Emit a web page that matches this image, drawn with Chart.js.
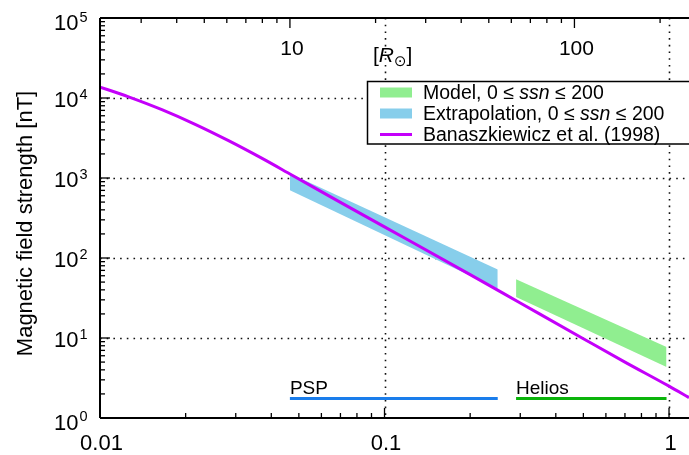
<!DOCTYPE html>
<html><head><meta charset="utf-8">
<script src="https://cdn.jsdelivr.net/npm/chart.js@4/dist/chart.umd.min.js"></script>
<style>html,body{margin:0;padding:0;background:#fff;}canvas{display:block;}</style>
</head><body>
<canvas id="c" width="689" height="455"></canvas>
<script>
// ---------- data ----------
const AU_IN_RSUN = 215;
const X_MIN = 0.01, X_MAX = 1.1755;           // heliocentric distance [AU]
const Y_MIN = 1, Y_MAX = 1e5;                 // magnetic field [nT]

const modelR = [0.29, 0.98];
const modelUpper = [54.2, 7.7];
const modelLower = [32.6, 4.34];

const extrapR = [0.0465, 0.25];
const extrapUpper = [1135, 71.6];
const extrapLower = [702, 41.4];

const banaszR = [0.01, 0.0126, 0.0165, 0.0216, 0.0283, 0.037, 0.0472, 0.07, 0.1, 0.2, 0.3, 0.5, 0.7, 1.0, 1.1755];
const banaszB = [13700, 10340, 7150, 4690, 2930, 1770, 1090, 496, 245, 62, 27.4, 9.8, 5.0, 2.5, 1.8];

const pspR = [0.0465, 0.25];
const heliosR = [0.29, 0.98];
const coverageB = 1.75;

const xMajorTicks = [0.01, 0.1, 1];
const xTickLabels = ['0.01', '0.1', '1'];
const yExponents = [0, 1, 2, 3, 4, 5];
const topMajorTicks = [10, 100];
const topTickLabels = ['10', '100'];
const topMinorTicks = [3, 4, 5, 6, 7, 8, 9, 20, 30, 40, 50, 60, 70, 80, 90, 200];

const COLORS = {
  model: 'rgb(144,238,144)',
  extrap: 'rgb(135,206,235)',
  banasz: 'rgb(196,0,250)',
  psp: 'rgb(26,125,235)',
  helios: 'rgb(10,180,10)'
};

const pts = (xs, ys) => xs.map((x, i) => ({x, y: Array.isArray(ys) ? ys[i] : ys}));
const FONT = '"Liberation Sans", Arial, "DejaVu Sans", sans-serif';

// ---------- custom drawing ----------
const deco = {
  id: 'deco',
  beforeDatasetsDraw(chart) {
    const {ctx, chartArea: a, scales: {x, y}} = chart;
    ctx.save();
    ctx.strokeStyle = '#111';
    ctx.lineWidth = 1.6;
    ctx.setLineDash([1.6, 5.1]);
    [0.1, 1].forEach(v => {
      const px = Math.round(x.getPixelForValue(v)) + 0.5;
      ctx.beginPath(); ctx.moveTo(px, a.top); ctx.lineTo(px, a.bottom); ctx.stroke();
    });
    [1, 2, 3, 4].forEach(e => {
      const py = Math.round(y.getPixelForValue(Math.pow(10, e))) + 0.5;
      ctx.beginPath(); ctx.moveTo(a.left, py); ctx.lineTo(a.right, py); ctx.stroke();
    });
    ctx.restore();
  },
  afterDatasetsDraw(chart) {
    const {ctx, chartArea: a, scales: {x, y, x2}} = chart;
    ctx.save();
    ctx.strokeStyle = '#000';
    ctx.fillStyle = '#000';
    // axes lines
    ctx.lineWidth = 2;
    ctx.beginPath();
    ctx.moveTo(a.left, a.top); ctx.lineTo(a.right, a.top);
    ctx.moveTo(a.left, a.top); ctx.lineTo(a.left, a.bottom);
    ctx.moveTo(a.left, a.bottom); ctx.lineTo(a.right, a.bottom);
    ctx.stroke();
    ctx.lineWidth = 1.3;
    // left ticks
    for (let e = 0; e < 5; e++) {
      for (let k = 1; k <= 9; k++) {
        const v = k * Math.pow(10, e);
        if (v <= Y_MIN) continue;
        const py = y.getPixelForValue(v);
        const len = k === 1 ? 10 : 5;
        ctx.beginPath(); ctx.moveTo(a.left, py); ctx.lineTo(a.left + len, py); ctx.stroke();
      }
    }
    // bottom ticks
    for (let e = -2; e <= 0; e++) {
      for (let k = 1; k <= 9; k++) {
        const v = k * Math.pow(10, e);
        if (v <= X_MIN || v > X_MAX) continue;
        const px = x.getPixelForValue(v);
        const len = k === 1 ? 10 : 5;
        ctx.beginPath(); ctx.moveTo(px, a.bottom); ctx.lineTo(px, a.bottom - len); ctx.stroke();
      }
    }
    // top ticks (solar radii)
    topMinorTicks.concat(topMajorTicks).forEach(v => {
      const px = x2.getPixelForValue(v);
      const len = topMajorTicks.includes(v) ? 10 : 5;
      ctx.beginPath(); ctx.moveTo(px, a.top); ctx.lineTo(px, a.top + len); ctx.stroke();
    });

    // y tick labels 10^n
    yExponents.forEach(e => {
      const py = y.getPixelForValue(Math.pow(10, e));
      let base = py + 9;
      if (base < 30) base = 30;
      if (e === 0) base += 2.5;
      ctx.font = '22px ' + FONT;
      ctx.textAlign = 'right'; ctx.textBaseline = 'alphabetic';
      ctx.fillText('10', 78.5, base);
      ctx.font = '14.5px ' + FONT;
      ctx.textAlign = 'left';
      ctx.fillText(String(e), 79.5, base - 8.5);
    });
    // x tick labels
    ctx.font = '22px ' + FONT;
    ctx.textAlign = 'center'; ctx.textBaseline = 'alphabetic';
    xMajorTicks.forEach((v, i) => ctx.fillText(xTickLabels[i], x.getPixelForValue(v) + 1.5, 450));
    // top tick labels
    ctx.font = '21px ' + FONT;
    topMajorTicks.forEach((v, i) => ctx.fillText(topTickLabels[i], x2.getPixelForValue(v) + 2, 55));
    // [R_sun]
    {
      let cx = 373;
      const bl = 62;
      ctx.textAlign = 'left';
      ctx.font = '21px ' + FONT; ctx.fillText('[', cx, bl); cx += ctx.measureText('[').width;
      ctx.font = 'italic 21px ' + FONT; ctx.fillText('R', cx, bl); cx += ctx.measureText('R').width;
      ctx.font = '15px "DejaVu Sans", ' + FONT; ctx.fillText('\u2299', cx, bl + 4); cx += ctx.measureText('\u2299').width;
      ctx.font = '21px ' + FONT; ctx.fillText(']', cx, bl);
    }
    // y axis title
    ctx.save();
    ctx.translate(32, 223.5);
    ctx.rotate(-Math.PI / 2);
    ctx.font = '22px ' + FONT;
    ctx.textAlign = 'center'; ctx.textBaseline = 'alphabetic';
    ctx.fillText('Magnetic field strength [nT]', 0, 0);
    ctx.restore();

    // coverage labels
    ctx.font = '19px ' + FONT;
    ctx.textAlign = 'left'; ctx.textBaseline = 'alphabetic';
    ctx.fillText('PSP', x.getPixelForValue(pspR[0]), 394);
    ctx.fillText('Helios', x.getPixelForValue(heliosR[0]), 394);

    // legend
    const L = {left: 367.5, top: 81.5, right: 700, bottom: 144};
    ctx.fillStyle = '#fff';
    ctx.fillRect(L.left, L.top, L.right - L.left, L.bottom - L.top);
    ctx.strokeStyle = '#000'; ctx.lineWidth = 1.5;
    ctx.strokeRect(L.left, L.top, L.right - L.left, L.bottom - L.top);
    const rows = [
      {type: 'box', color: COLORS.model, parts: [['Model, 0 \u2264 ', ''], ['ssn', 'italic '], [' \u2264 200', '']]},
      {type: 'box', color: COLORS.extrap, parts: [['Extrapolation, 0 \u2264 ', ''], ['ssn', 'italic '], [' \u2264 200', '']]},
      {type: 'line', color: COLORS.banasz, parts: [['Banaszkiewicz et al. (1998)', '']]}
    ];
    rows.forEach((r, i) => {
      const cy = 92.5 + i * 21;
      if (r.type === 'box') {
        ctx.fillStyle = r.color;
        ctx.fillRect(380, cy - 5, 32, 10);
      } else {
        ctx.strokeStyle = r.color; ctx.lineWidth = 3;
        ctx.beginPath(); ctx.moveTo(380, cy); ctx.lineTo(412, cy); ctx.stroke();
      }
      ctx.fillStyle = '#000';
      ctx.textBaseline = 'middle'; ctx.textAlign = 'left';
      let tx = 423;
      r.parts.forEach(([t, st]) => {
        ctx.font = st + '19.5px ' + FONT;
        ctx.fillText(t, tx, cy + 1);
        tx += ctx.measureText(t).width;
      });
    });
    ctx.restore();
  }
};

new Chart(document.getElementById('c'), {
  type: 'line',
  data: {
    datasets: [
      {label: 'Banaszkiewicz et al. (1998)', data: pts(banaszR, banaszB), borderColor: COLORS.banasz, borderWidth: 3, pointRadius: 0, fill: false, cubicInterpolationMode: 'monotone', order: 0},
      {label: 'Extrapolation upper', data: pts(extrapR, extrapUpper), borderWidth: 0, borderColor: 'rgba(0,0,0,0)', backgroundColor: COLORS.extrap, pointRadius: 0, fill: '+1', order: 3},
      {label: 'Extrapolation lower', data: pts(extrapR, extrapLower), borderWidth: 0, borderColor: 'rgba(0,0,0,0)', pointRadius: 0, fill: false, order: 3},
      {label: 'Model upper', data: pts(modelR, modelUpper), borderWidth: 0, borderColor: 'rgba(0,0,0,0)', backgroundColor: COLORS.model, pointRadius: 0, fill: '+1', order: 3},
      {label: 'Model lower', data: pts(modelR, modelLower), borderWidth: 0, borderColor: 'rgba(0,0,0,0)', pointRadius: 0, fill: false, order: 3},
      {label: 'PSP', data: pts(pspR, coverageB), borderColor: COLORS.psp, borderWidth: 3, pointRadius: 0, fill: false, order: 1},
      {label: 'Helios', data: pts(heliosR, coverageB), borderColor: COLORS.helios, borderWidth: 3, pointRadius: 0, fill: false, order: 1}
    ]
  },
  options: {
    responsive: false,
    animation: false,
    events: [],
    layout: {padding: {left: 100, right: 0, top: 18, bottom: 37}},
    scales: {
      x: {type: 'logarithmic', min: X_MIN, max: X_MAX, display: false},
      x2: {type: 'logarithmic', position: 'top', min: X_MIN * AU_IN_RSUN, max: X_MAX * AU_IN_RSUN, display: false},
      y: {type: 'logarithmic', min: Y_MIN, max: Y_MAX, display: false}
    },
    plugins: {legend: {display: false}, tooltip: {enabled: false}}
  },
  plugins: [deco]
});
</script>
</body></html>
